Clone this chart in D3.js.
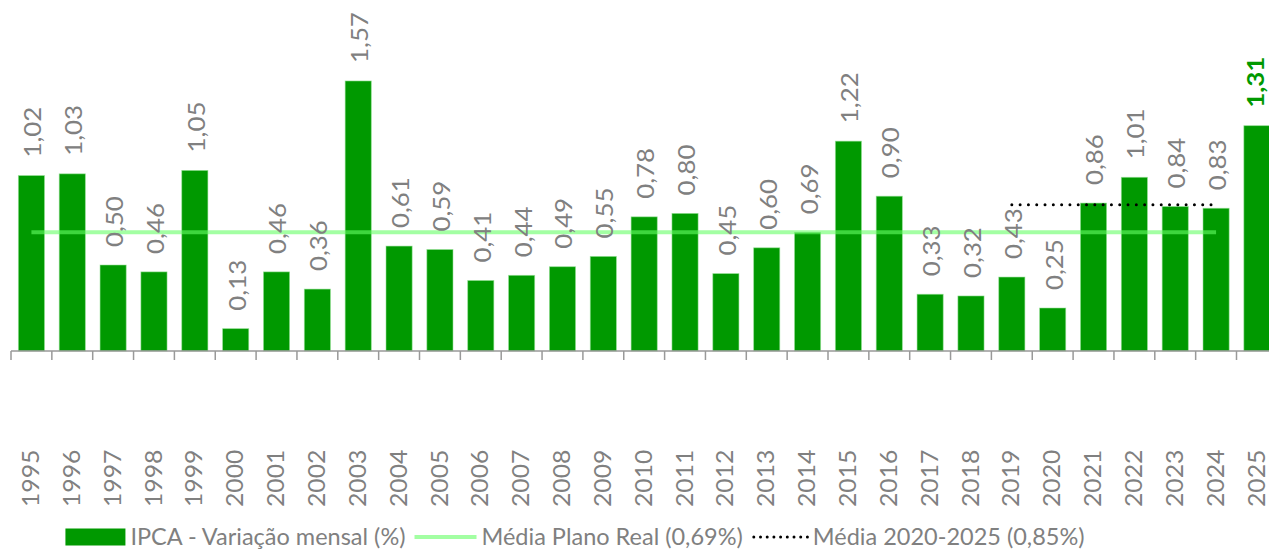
<!DOCTYPE html>
<html>
<head>
<meta charset="utf-8">
<script src="https://cdn.jsdelivr.net/npm/d3@7"></script>
<style>
  html, body { margin: 0; padding: 0; background: #fff; overflow: hidden; }
  svg { display: block; font-family: Lato, "Open Sans", sans-serif; }
</style>
</head>
<body>
<svg id="chart" width="1269" height="550"></svg>
<script>
const years = ["1995","1996","1997","1998","1999","2000","2001","2002","2003","2004","2005","2006","2007","2008","2009","2010","2011","2012","2013","2014","2015","2016","2017","2018","2019","2020","2021","2022","2023","2024","2025"];
const ipca = [1.02,1.03,0.50,0.46,1.05,0.13,0.46,0.36,1.57,0.61,0.59,0.41,0.44,0.49,0.55,0.78,0.80,0.45,0.60,0.69,1.22,0.90,0.33,0.32,0.43,0.25,0.86,1.01,0.84,0.83,1.31];
const mediaPlanoReal = 0.69;
const mediaPlanoRange = ["1995","2024"];
const media2020 = 0.85;
const media2020Range = ["2019","2024"];
const legendLabels = ["IPCA - Variação mensal (%)", "Média Plano Real (0,69%)", "Média 2020-2025 (0,85%)"];

const svg = d3.select("#chart");
const GREEN = "#009900";
const GRAY = "#808080";

const x = d3.scaleBand().domain(years).range([11, 11 + 31 * 40.85]).paddingInner(0.36).paddingOuter(0.18);
const y = d3.scaleLinear().domain([0, 2]).range([351, 7]);

// bars
svg.append("g").selectAll("rect").data(years).join("rect")
  .attr("x", (d) => x(d))
  .attr("y", (d, i) => y(ipca[i]))
  .attr("width", x.bandwidth())
  .attr("height", (d, i) => y(0) - y(ipca[i]))
  .attr("fill", GREEN)
  .attr("stroke", "rgba(150,225,150,0.7)")
  .attr("stroke-width", 0.8);

// axis
const x0 = x.range()[0], x1 = x.range()[1], step = x.step();
const axis = svg.append("g");
axis.append("line").attr("x1", x0).attr("x2", x1).attr("y1", y(0)).attr("y2", y(0))
  .attr("stroke", "#999").attr("stroke-width", 1.5);
axis.selectAll("line.tick").data(d3.range(years.length + 1)).join("line")
  .attr("class", "tick")
  .attr("x1", (i) => x0 + i * step).attr("x2", (i) => x0 + i * step)
  .attr("y1", y(0)).attr("y2", y(0) + 9)
  .attr("stroke", "#999").attr("stroke-width", 1.5);

// average lines
const cx = (d) => x(d) + x.bandwidth() / 2;
svg.append("line")
  .attr("x1", cx(mediaPlanoRange[0])).attr("x2", cx(mediaPlanoRange[1]))
  .attr("y1", y(mediaPlanoReal)).attr("y2", y(mediaPlanoReal))
  .attr("stroke", "#66ff66").attr("stroke-opacity", 0.6).attr("stroke-width", 4);
svg.append("line")
  .attr("x1", cx(media2020Range[0])).attr("x2", cx(media2020Range[1]))
  .attr("y1", y(media2020)).attr("y2", y(media2020))
  .attr("stroke", "#000").attr("stroke-width", 3)
  .attr("stroke-linecap", "round").attr("stroke-dasharray", "0,8.3");

// value labels
const fmt = (v) => v.toFixed(2).replace(".", ",");
const last = years.length - 1;
svg.append("g").selectAll("text").data(years).join("text")
  .attr("transform", (d, i) => `translate(${cx(d) + (i === last ? -1.5 : 1.5)},${y(ipca[i]) - 18}) rotate(-90) scale(1.1,1)`)
  .attr("dy", "0.36em")
  .attr("font-size", 23.5)
  .attr("fill", (d, i) => i === last ? GREEN : GRAY)
  .attr("font-weight", (d, i) => i === last ? "bold" : "normal")
  .text((d, i) => fmt(ipca[i]));

// year labels
svg.append("g").selectAll("text").data(years).join("text")
  .attr("transform", (d) => `translate(${cx(d) - 0.5},507) rotate(-90) scale(1.1,1)`)
  .attr("dy", "0.36em")
  .attr("font-size", 22.5)
  .attr("fill", GRAY)
  .text((d) => d);

// legend
const lg = svg.append("g");
let cur = 0;
const LY = 537;
legendLabels.forEach((lab, i) => {
  const g = lg.append("g");
  if (i === 0) {
    g.append("rect").attr("x", cur).attr("y", LY - 8.5).attr("width", 60).attr("height", 17).attr("fill", GREEN);
  } else if (i === 1) {
    g.append("line").attr("x1", cur).attr("x2", cur + 62).attr("y1", LY).attr("y2", LY)
      .attr("stroke", "#66ff66").attr("stroke-opacity", 0.6).attr("stroke-width", 4);
  } else {
    g.append("line").attr("x1", cur + 2).attr("x2", cur + 56).attr("y1", LY).attr("y2", LY)
      .attr("stroke", "#000").attr("stroke-width", 3)
      .attr("stroke-linecap", "round").attr("stroke-dasharray", "0,6.7");
  }
  const symW = i === 0 ? 60 : (i === 1 ? 62 : 56);
  const t = g.append("text").attr("x", cur + symW + 5).attr("y", LY).attr("dy", "0.36em")
    .attr("font-size", 23.5).attr("fill", GRAY).text(lab);
  cur = cur + symW + 5 + t.node().getComputedTextLength() + 9;
});
const totalW = cur - 9;
lg.attr("transform", `translate(${575 - totalW / 2},0)`);
</script>
</body>
</html>
